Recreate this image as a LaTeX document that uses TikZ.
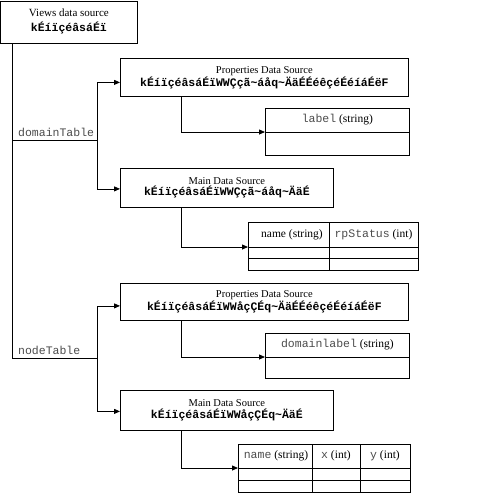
\documentclass[tikz,border=0pt]{standalone}
\usepackage{fontspec}
\setmainfont{Liberation Serif}
\setmonofont{Liberation Mono}
\usetikzlibrary{arrows.meta}
\tikzset{>={Triangle[length=6pt,width=5pt]},every node/.style={font=\fontsize{10.5}{11.5}\selectfont},
src/.style={draw,line width=.8pt,inner sep=0pt,align=center,anchor=north west},
tbl/.style={draw,line width=.8pt,inner sep=0pt,anchor=north west},
cell/.style={inner sep=0pt,font=\fontsize{11.5}{12}\selectfont},wire/.style={line width=.8pt},flow/.style={wire,->}}
\newcommand{\code}[1]{{\ttfamily\fontsize{11.5}{12}\selectfont\color{black!70}#1}}
\newcommand{\key}[1]{{\ttfamily\bfseries\fontsize{11.5}{12}\selectfont #1}}
\newcommand{\tld}{\textasciitilde}
\begin{document}
\begin{tikzpicture}[x=1pt,y=-1pt]
\useasboundingbox (0,0) rectangle (492,499);
\node[src,minimum width=136pt,minimum height=42pt,font=\fontsize{11}{12}\selectfont] (views) at (.5,.5) {Views data source\\[3pt]\key{kÉíïçéâsáÉï}};
\node[src,minimum width=288pt,minimum height=38pt] (prop1) at (120,58) {Properties Data Source\\\key{kÉíïçéâsáÉïWWÇçã\tld{}áåq\tld{}ÄäÉÉéêçéÉéíáÉëF}};
\node[src,minimum width=213pt,minimum height=39pt] (main1) at (120,168) {Main Data Source\\\key{kÉíïçéâsáÉïWWÇçã\tld{}áåq\tld{}ÄäÉ}};
\node[src,minimum width=288pt,minimum height=37pt] (prop2) at (120,283) {Properties Data Source\\\key{kÉíïçéâsáÉïWWåçÇÉq\tld{}ÄäÉÉéêçéÉéíáÉëF}};
\node[src,minimum width=213pt,minimum height=40pt] (main2) at (120,390) {Main Data Source\\\key{kÉíïçéâsáÉïWWåçÇÉq\tld{}ÄäÉ}};
% tables
\node[tbl,minimum width=144pt,minimum height=47pt] (lbl1) at (265,108) {};
\draw[wire] ([yshift=-24pt]lbl1.north west) -- ([yshift=-24pt]lbl1.north east);
\node[cell] (lbl1a) at ([yshift=-12pt]lbl1.north) {\code{label} (string)};
\node[tbl,minimum width=170pt,minimum height=48pt] (tab1) at (248,222) {};
\draw[wire] ([yshift=-25pt]tab1.north west) -- ([yshift=-25pt]tab1.north east) ([yshift=-36pt]tab1.north west) -- ([yshift=-36pt]tab1.north east) ([xshift=81pt]tab1.north west) -- ([xshift=81pt]tab1.south west);
\node[cell] (tab1a) at (292,234.5) {name (string)};\node[cell] (tab1b) at (373.5,234.5) {\code{rpStatus} (int)};
\node[tbl,minimum width=144pt,minimum height=45pt] (lbl2) at (265,333) {};
\draw[wire] ([yshift=-24pt]lbl2.north west) -- ([yshift=-24pt]lbl2.north east);
\node[cell] (lbl2a) at ([yshift=-12pt]lbl2.north) {\code{domainlabel} (string)};
\node[tbl,minimum width=172pt,minimum height=48pt] (tab2) at (238,444) {};
\draw[wire] ([yshift=-24pt]tab2.north west) -- ([yshift=-24pt]tab2.north east) ([yshift=-36pt]tab2.north west) -- ([yshift=-36pt]tab2.north east) ([xshift=74pt]tab2.north west) -- ([xshift=74pt]tab2.south west) ([xshift=122pt]tab2.north west) -- ([xshift=122pt]tab2.south west);
\node[cell] (tab2a) at (276,456) {\code{name} (string)};\node[cell] (tab2b) at (336,456) {\code{x} (int)};\node[cell] (tab2c) at (385,456) {\code{y} (int)};
% connectors
\coordinate (dom) at (12,140);\coordinate (dombr) at (97,140);\coordinate (nod) at (12,358);\coordinate (nodbr) at (97,358);
\draw[wire] (views.south -| dom) -- (nod) -- (nodbr);\draw[wire] (dom) -- (dombr);
\node[anchor=south west,inner sep=3pt] (domlbl) at ([xshift=3pt]dom) {\code{domainTable}};
\node[anchor=south west,inner sep=3pt] (nodlbl) at ([xshift=3pt]nod) {\code{nodeTable}};
\draw[flow] (dombr) |- ([yshift=-5pt]prop1.west);\draw[flow] (dombr) |- ([yshift=-1pt]main1.west);
\draw[flow] (nodbr) |- ([yshift=-4pt]prop2.west);\draw[flow] (nodbr) |- ([yshift=-1pt]main2.west);
\draw[flow] ([xshift=61pt]prop1.south west) |- ([yshift=-24pt]lbl1.north west);
\draw[flow] ([xshift=61pt]main1.south west) |- ([yshift=-25pt]tab1.north west);
\draw[flow] ([xshift=61pt]prop2.south west) |- ([yshift=-24pt]lbl2.north west);
\draw[flow] ([xshift=61pt]main2.south west) |- ([yshift=-24pt]tab2.north west);
\end{tikzpicture}
\end{document}
